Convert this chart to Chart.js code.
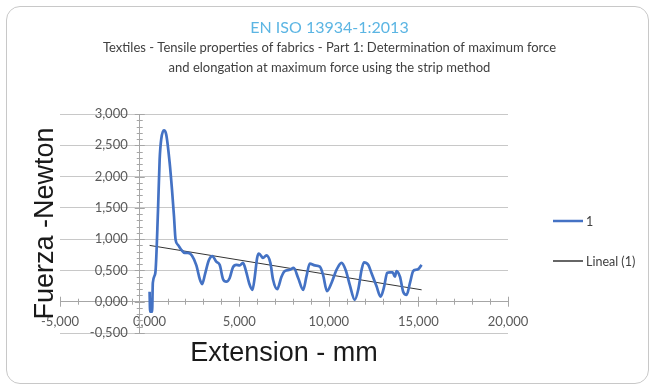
<!DOCTYPE html>
<html>
<head>
<meta charset="utf-8">
<script src="https://cdn.jsdelivr.net/npm/chart.js@4.4.0/dist/chart.umd.min.js"></script>
<style>
  body { margin: 0; background: #fff; }
  #wrap { position: relative; width: 653px; height: 388px; }
  #frame { position: absolute; left: 6px; top: 6px; width: 641px; height: 376px;
           border: 1.5px solid #c8c8c8; border-radius: 14px; pointer-events: none; }
</style>
</head>
<body>
<div id="wrap">
  <canvas id="chart" width="653" height="388"></canvas>
  <div id="frame"></div>
</div>
<script>
// extension (mm) and force (N)
const extension = [0.00, 0.03, 0.14, 0.18, 0.32, 0.47, 0.56, 0.65, 0.80, 0.93,
    1.12, 1.25, 1.36, 1.45, 1.58, 1.77, 1.96, 2.14, 2.36, 2.61,
    2.80, 2.93, 3.10, 3.30, 3.50, 3.72, 3.91, 4.10, 4.28, 4.47,
    4.65, 4.84, 5.03, 5.21, 5.40, 5.55, 5.74, 5.87, 6.00, 6.10,
    6.33, 6.52, 6.74, 6.89, 7.12, 7.36, 7.54, 7.82, 8.04, 8.29,
    8.57, 8.75, 8.94, 9.22, 9.50, 9.68, 9.90, 10.15, 10.43, 10.71,
    10.95, 11.17, 11.45, 11.64, 11.83, 11.96, 12.20, 12.38, 12.66, 12.89,
    13.07, 13.26, 13.41, 13.56, 13.69, 13.78, 13.97, 14.15, 14.34, 14.53,
    14.71, 14.86, 14.99, 15.18];
const force = [0.16, -0.16, -0.16, 0.30, 0.46, 1.47, 2.27, 2.60, 2.74, 2.67,
    2.22, 1.79, 1.37, 0.99, 0.91, 0.83, 0.78, 0.78, 0.74, 0.58,
    0.36, 0.28, 0.45, 0.66, 0.73, 0.64, 0.59, 0.36, 0.32, 0.38,
    0.55, 0.59, 0.58, 0.62, 0.47, 0.30, 0.19, 0.40, 0.70, 0.77,
    0.70, 0.74, 0.62, 0.35, 0.20, 0.40, 0.49, 0.51, 0.54, 0.38,
    0.19, 0.40, 0.61, 0.58, 0.56, 0.43, 0.17, 0.30, 0.51, 0.62,
    0.50, 0.27, 0.03, 0.19, 0.51, 0.63, 0.59, 0.46, 0.25, 0.08,
    0.22, 0.46, 0.47, 0.47, 0.40, 0.49, 0.40, 0.16, 0.11, 0.30,
    0.49, 0.51, 0.52, 0.59];

// linear trend line (Lineal (1)) end points
const trendX = [0.00, 15.18];
const trendY = [0.90, 0.19];

const seriesLabels = ['1', 'Lineal (1)'];
const titleText = 'EN ISO 13934-1:2013';
const subtitleText = [
    'Textiles - Tensile properties of fabrics - Part 1: Determination of maximum force',
    'and elongation at maximum force using the strip method'
];
const xTitle = 'Extension - mm';
const yTitle = 'Fuerza -Newton';

// where the axes cross
const yAxisAt = -0.55;
const xAxisAt = 0;

function fmt(v) {
    return v.toFixed(3).replace('.', ',');
}

// small crossing tick marks like the excel axes
const crossTicks = {
    id: 'crossTicks',
    beforeDatasetsDraw(chart) {
        const ctx = chart.ctx;
        const x = chart.scales.x;
        const y = chart.scales.y;
        const ax = x.getPixelForValue(yAxisAt);
        const ay = y.getPixelForValue(xAxisAt);
        ctx.save();
        ctx.strokeStyle = '#a6a6a6';
        ctx.lineWidth = 1;
        ctx.beginPath();
        for (let k = -5; k <= 30; k++) {
            let py = Math.round(y.getPixelForValue(k / 10)) + 0.5;
            let len = (k % 5 === 0) ? 5 : 3;
            ctx.moveTo(ax - len, py);
            ctx.lineTo(ax + len, py);
        }
        for (let k = -5; k <= 20; k++) {
            let px = Math.round(x.getPixelForValue(k)) + 0.5;
            let len = (k % 5 === 0) ? 5 : 3;
            ctx.moveTo(px, ay - len);
            ctx.lineTo(px, ay + len);
        }
        ctx.stroke();
        ctx.restore();
    }
};

// chart title + axis titles, excel style (title is centred on the whole frame)
const chartTexts = {
    id: 'chartTexts',
    afterDraw(chart) {
        const ctx = chart.ctx;
        const area = chart.chartArea;
        const cx = chart.width / 2 + 3;
        ctx.save();
        ctx.textAlign = 'center';
        ctx.textBaseline = 'middle';
        ctx.fillStyle = '#5bb5e3';
        ctx.font = '16px Lato, sans-serif';
        ctx.fillText(titleText, cx, 28);
        ctx.fillStyle = '#404040';
        ctx.font = '13px Lato, sans-serif';
        subtitleText.forEach(function(line, i) {
            ctx.fillText(line, cx, 48 + i * 19.5);
        });

        ctx.fillStyle = '#1a1a1a';
        ctx.font = '27px "Liberation Sans", Arial, sans-serif';
        ctx.textBaseline = 'alphabetic';
        ctx.fillText(xTitle, (area.left + area.right) / 2, 361);
        ctx.translate(53, (area.top + area.bottom) / 2);
        ctx.rotate(-Math.PI / 2);
        ctx.fillText(yTitle, 0, 0);
        ctx.restore();
    }
};

// legend on the right with line samples
const sideLegend = {
    id: 'sideLegend',
    afterDraw(chart) {
        const ctx = chart.ctx;
        const rows = [221, 261];
        ctx.save();
        ctx.font = '12.5px Lato, sans-serif';
        ctx.textBaseline = 'middle';
        ctx.fillStyle = '#404040';
        chart.data.datasets.forEach(function(ds, i) {
            ctx.strokeStyle = ds.borderColor;
            ctx.lineWidth = i === 0 ? 2.5 : 1.5;
            ctx.beginPath();
            ctx.moveTo(553, rows[i]);
            ctx.lineTo(583, rows[i]);
            ctx.stroke();
            ctx.fillText(ds.label, 586, rows[i] + 1);
        });
        ctx.restore();
    }
};

const tickFont = { family: 'Lato', size: 13 };

const ctx = document.getElementById('chart').getContext('2d');
const chart = new Chart(ctx, {
    type: 'line',
    data: {
        datasets: [{
            label: seriesLabels[0],
            data: extension.map(function(v, i) { return { x: v, y: force[i] }; }),
            borderColor: '#4472c4',
            borderWidth: 2.7,
            pointRadius: 0,
            cubicInterpolationMode: 'monotone',
            fill: false
        }, {
            label: seriesLabels[1],
            data: trendX.map(function(v, i) { return { x: v, y: trendY[i] }; }),
            borderColor: '#333333',
            borderWidth: 1,
            pointRadius: 0,
            fill: false
        }]
    },
    options: {
        responsive: false,
        animation: false,
        layout: { padding: { left: 60, right: 145, top: 114, bottom: 55 } },
        plugins: {
            legend: { display: false },
            tooltip: { enabled: false },
            title: { display: false }
        },
        scales: {
            x: {
                type: 'linear',
                position: { y: xAxisAt },
                min: -5,
                max: 20,
                ticks: {
                    stepSize: 5,
                    maxRotation: 0,
                    padding: 12,
                    color: '#595959',
                    font: tickFont,
                    callback: function(v) { return fmt(v); }
                },
                grid: { display: false, drawTicks: false },
                border: { display: true, color: '#a6a6a6' }
            },
            y: {
                type: 'linear',
                position: { x: yAxisAt },
                min: -0.5,
                max: 3,
                ticks: { stepSize: 0.5, display: false },
                grid: { color: '#c8c8c8', drawTicks: false },
                border: { display: true, color: '#a6a6a6' }
            },
            // label-only axis so the numbers sit a little left of the axis line
            yLabels: {
                axis: 'y',
                type: 'linear',
                position: { x: yAxisAt - 0.67 },
                min: -0.5,
                max: 3,
                ticks: {
                    stepSize: 0.5,
                    color: '#595959',
                    font: tickFont,
                    callback: function(v) { return fmt(v); }
                },
                grid: { display: false, drawTicks: false },
                border: { display: false }
            }
        }
    },
    plugins: [crossTicks, chartTexts, sideLegend]
});
</script>
</body>
</html>
